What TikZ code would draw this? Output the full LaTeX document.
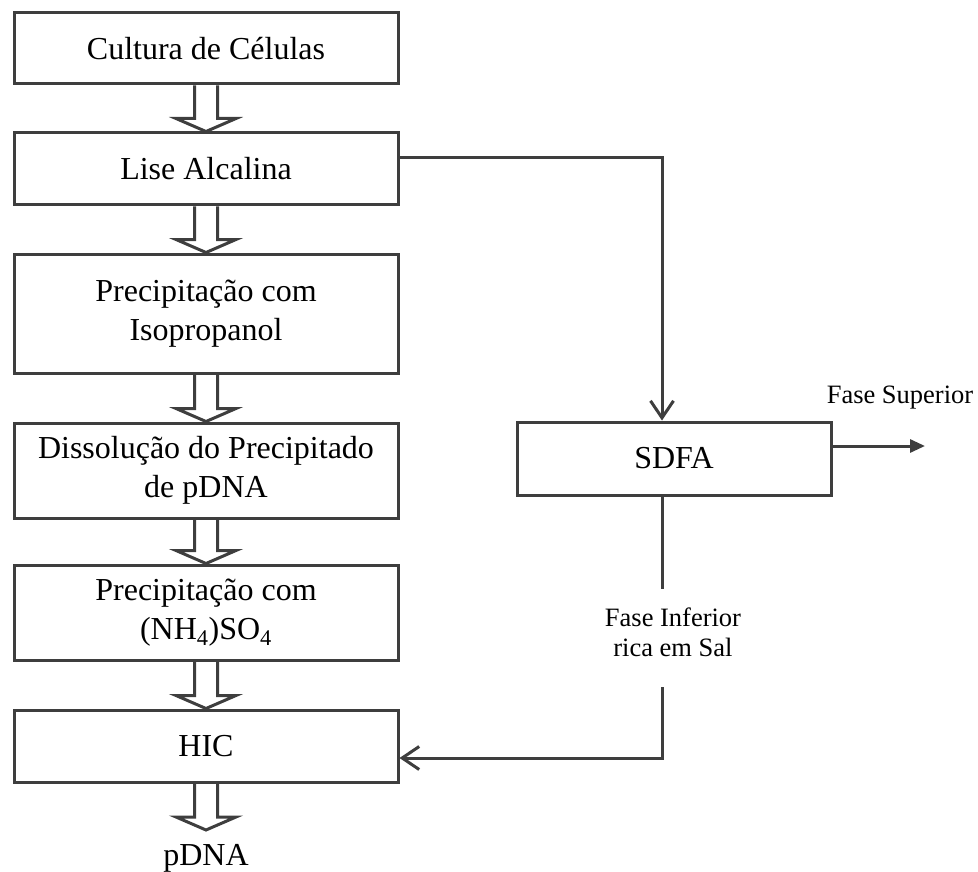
\documentclass[tikz,border=0pt]{standalone}
\usepackage{fontspec}
\setmainfont{Liberation Serif}
\usetikzlibrary{arrows.meta,calc}
\definecolor{ink}{RGB}{62,62,62}
\tikzset{
  stage/.style={draw=ink, line width=3pt, minimum width=384pt, inner sep=0pt,
    align=center, font=\fontsize{32}{39}\selectfont, fill=white},
  conn/.style={draw=ink, line width=3pt},
  hollow/.style={draw=ink, line width=3pt, line join=miter},
  lbl/.style={font=\fontsize{26.5}{30}\selectfont, align=center, inner sep=0pt},
  barb/.style={-{Straight Barb[length=17pt,width=23pt]}},
}
% hollow block arrow from the bottom of one stage down to a tip point
\newcommand\flowarrow[2]{%
  \draw[hollow] let \p1=(#1), \p2=(#2) in
    (\x2-11.5pt,\y1) -- (\x2-11.5pt,\y2+13pt) -- (\x2-30pt,\y2+13pt) -- (\x2,\y2)
    -- (\x2+30pt,\y2+13pt) -- (\x2+11.5pt,\y2+13pt) -- (\x2+11.5pt,\y1);}
\begin{document}
\begin{tikzpicture}[x=1pt,y=-1pt]
\useasboundingbox (0,0) rectangle (978,872);

% main purification line
\node[stage, minimum height=71pt]  (cult) at (206,48.5)  {Cultura de Células};
\node[stage, minimum height=72pt]  (lise) at (206,169)   {Lise Alcalina};
\node[stage, minimum height=119pt] (iso)  at (206,313.5) {Precipitação com\\Isopropanol};
\node[stage, minimum height=95pt]  (diss) at (206,470.5) {Dissolução do Precipitado\\de pDNA};
\node[stage, minimum height=95pt]  (amon) at (206,612.5) {Precipitação com\\(NH\textsubscript{4})SO\textsubscript{4}};
\node[stage, minimum height=72pt]  (hic)  at (206,746)   {HIC};
\coordinate (pend) at (206,830);
\node[font=\fontsize{32}{39}\selectfont, inner sep=0pt] (pdna) at (206,858) {pDNA};

% aqueous two-phase branch
\node[stage, minimum width=314pt, minimum height=73pt] (sdfa) at (674,458.5) {SDFA};
\node[lbl] (sup) at (900,398) {Fase Superior};
\node[lbl] (inf) at (673,632) {Fase Inferior\\rica em Sal};
\coordinate (supend) at (925,446);

\flowarrow{cult.south}{lise.north}
\flowarrow{lise.south}{iso.north}
\flowarrow{iso.south}{diss.north}
\flowarrow{diss.south}{amon.north}
\flowarrow{amon.south}{hic.north}
\flowarrow{hic.south}{pend}

\draw[conn, barb] ([yshift=11pt]lise.east) -| ([xshift=-12pt]sdfa.north);
\draw[conn, -{Triangle[length=15pt,width=13pt]}] ([yshift=12.5pt]sdfa.east) -- ([yshift=12.5pt]sdfa.east -| supend);

\path ([xshift=-12pt]sdfa.south |- inf.center) coordinate (infmid);
\draw[conn] ([xshift=-12pt]sdfa.south) -- ([yshift=43pt]infmid);
\draw[conn, barb] ([yshift=-55pt]infmid) |- ([yshift=-12pt]hic.east);
\end{tikzpicture}
\end{document}
